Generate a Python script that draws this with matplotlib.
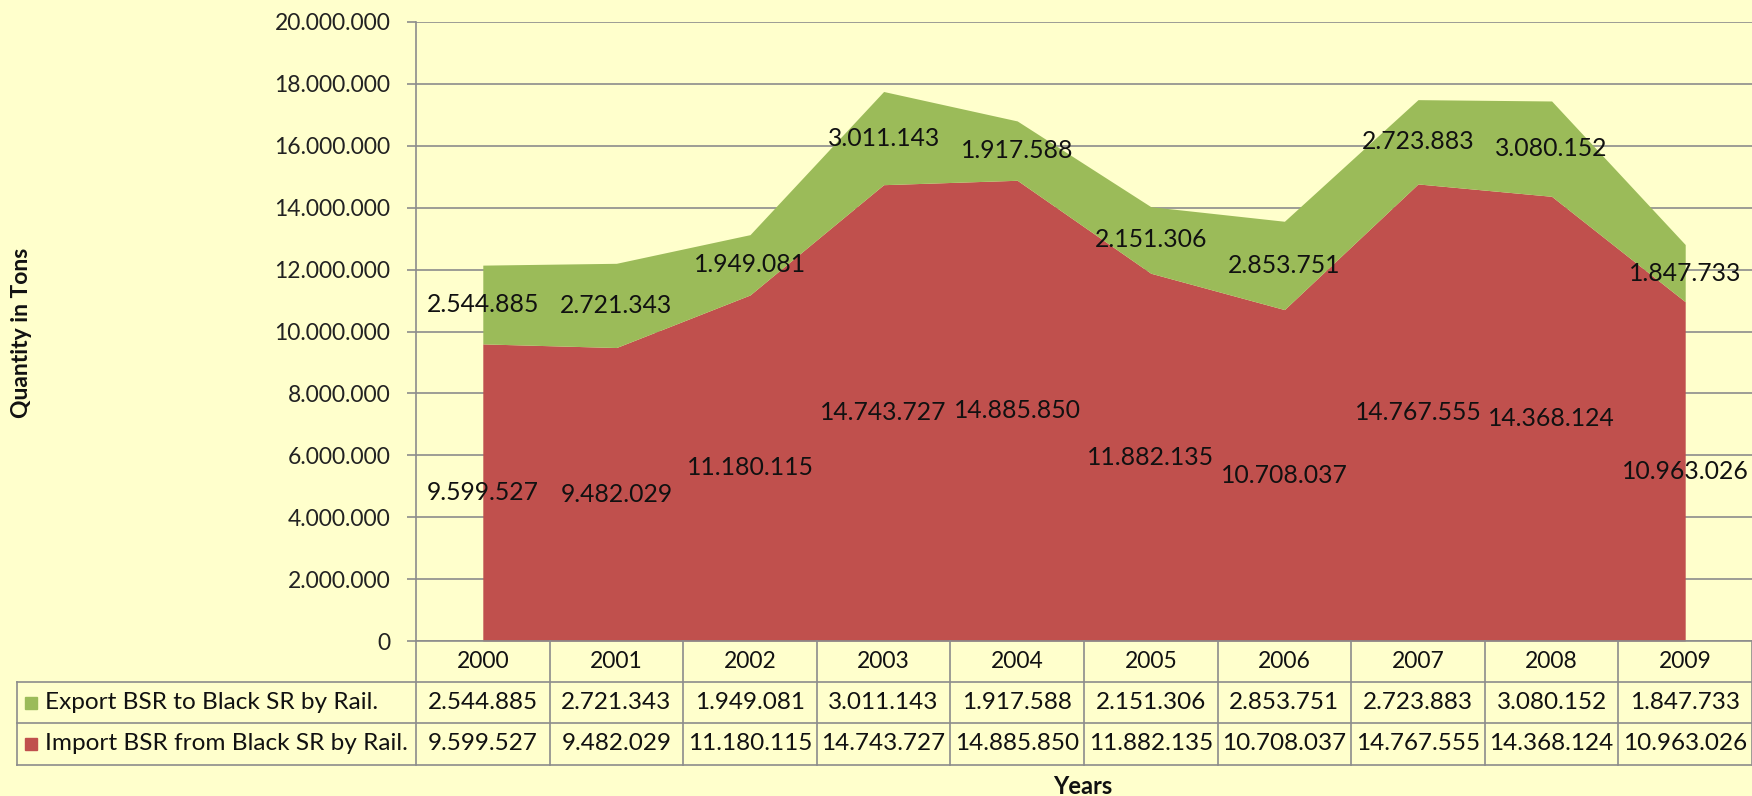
import matplotlib
matplotlib.use("Agg")
import matplotlib.pyplot as plt
import matplotlib.transforms as mtransforms
import numpy as np

years = ["2000", "2001", "2002", "2003", "2004", "2005", "2006", "2007", "2008", "2009"]
export_vals = [2544885, 2721343, 1949081, 3011143, 1917588, 2151306, 2853751, 2723883, 3080152, 1847733]
import_vals = [9599527, 9482029, 11180115, 14743727, 14885850, 11882135, 10708037, 14767555, 14368124, 10963026]
series_names = ["Export BSR to Black SR by Rail.", "Import BSR from Black SR by Rail."]
yticks = [0, 2000000, 4000000, 6000000, 8000000, 10000000, 12000000, 14000000, 16000000, 18000000, 20000000]

BG = "#FFFFCC"
GREEN = "#9BBB59"
RED = "#C0504D"
GRID = "#8C8C8C"
FONT = "Lato"
FS = 16.5
FS_LBL = 17.8
FS_TBL = 17.5
FS_LEG = 17.6

def fmt(v):
    return f"{v:,}".replace(",", ".")

W, H = 1752, 796
fig = plt.figure(figsize=(W / 100, H / 100), dpi=100, facecolor=BG)

def fx(px):
    return px / W
def fy(py):
    return 1 - py / H

x_left, x_right, y_top, y_bot = 416, 1752, 22, 641
ax = fig.add_axes([fx(x_left), fy(y_bot), fx(x_right) - fx(x_left), fy(y_top) - fy(y_bot)])
ax.set_facecolor(BG)

x = np.arange(len(years))
imp = np.array(import_vals)
exp_ = np.array(export_vals)
ax.fill_between(x, 0, imp, color=RED, linewidth=0, zorder=2)
ax.fill_between(x, imp, imp + exp_, color=GREEN, linewidth=0, zorder=2)

ax.set_xlim(-0.5, len(years) - 0.5)
ax.set_ylim(0, 20000000)
ax.set_yticks(yticks)
ax.set_yticklabels([fmt(v) for v in yticks], fontname=FONT, fontsize=FS, color="#222222")
ax.yaxis.grid(True, color=GRID, linewidth=1.2, zorder=1)
ax.set_axisbelow(True)
ax.set_xticks([])
for s in ["top", "right", "bottom"]:
    ax.spines[s].set_visible(False)
ax.spines["left"].set_color(GRID)
ax.spines["left"].set_linewidth(1.2)
ax.tick_params(axis="y", length=6.5, width=1.2, color=GRID, pad=12)

for i in range(len(years)):
    ax.text(x[i], imp[i] / 2, fmt(import_vals[i]), ha="center", va="center",
            fontname=FONT, fontsize=FS_LBL, color="#111111", zorder=5)
    ax.text(x[i], imp[i] + exp_[i] / 2, fmt(export_vals[i]), ha="center", va="center",
            fontname=FONT, fontsize=FS_LBL, color="#111111", zorder=5)

pix = mtransforms.Affine2D().scale(1 / W, -1 / H).translate(0, 1) + fig.transFigure
trans = mtransforms.blended_transform_factory(ax.transData, pix)

row_y = [641, 682, 723, 765]
tbl_left = 17
lkw = dict(color=GRID, linewidth=1.2, clip_on=False)

ax.plot([-0.5, len(years) - 0.5], [row_y[0]] * 2, transform=trans, **lkw)
for yy in row_y[1:]:
    fig.lines.append(plt.Line2D([fx(tbl_left), fx(x_right) - 0.0005], [fy(yy), fy(yy)],
                                transform=fig.transFigure, color=GRID, linewidth=1.2))
for k in range(len(years) + 1):
    xe = k - 0.5
    ax.plot([xe, xe], [row_y[0], row_y[3]], transform=trans, **lkw)
fig.lines.append(plt.Line2D([fx(tbl_left)] * 2, [fy(row_y[1]), fy(row_y[3])],
                            transform=fig.transFigure, color=GRID, linewidth=1.2))

for i, yr in enumerate(years):
    ax.text(x[i], (row_y[0] + row_y[1]) / 2, yr, transform=trans, ha="center", va="center",
            fontname=FONT, fontsize=FS, color="#111111", clip_on=False)
rows = [export_vals, import_vals]
colors = [GREEN, RED]
for r, vals in enumerate(rows):
    yc = (row_y[r + 1] + row_y[r + 2]) / 2
    for i, v in enumerate(vals):
        ax.text(x[i], yc, fmt(v), transform=trans, ha="center", va="center",
                fontname=FONT, fontsize=FS_TBL, color="#111111", clip_on=False)
    fig.patches.append(plt.Rectangle((fx(25), fy(yc + 6)), 12 / W, 12 / H,
                                     transform=fig.transFigure, color=colors[r]))
    fig.text(fx(45), fy(yc), series_names[r], ha="left", va="center",
             fontname=FONT, fontsize=FS_LEG, color="#111111")

fig.text(fx(22), fy(333), "Quantity in Tons", rotation=90, ha="center", va="center",
         fontname=FONT, fontsize=16.5, fontweight="bold", color="#111111")
fig.text(fx(1083), fy(786), "Years", ha="center", va="center",
         fontname=FONT, fontsize=17, fontweight="bold", color="#111111")

fig.savefig("out.png", dpi=100, facecolor=BG)
